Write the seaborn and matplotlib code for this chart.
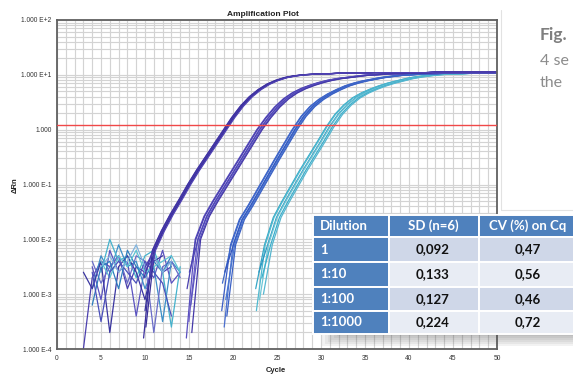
import numpy as np
import pandas as pd
import matplotlib
matplotlib.use("Agg")
import matplotlib.pyplot as plt
import seaborn as sns
from matplotlib.patches import Rectangle
from matplotlib.ticker import MultipleLocator, LogLocator, NullFormatter

# ---------- data (log10 of delta Rn per cycle) ----------
g1_start = 10
g1_log = [-2.9, -2.2, -1.85, -1.55, -1.28, -1.0, -0.74, -0.5, -0.26, -0.02,
          0.22, 0.43, 0.6, 0.73, 0.83, 0.9, 0.95, 0.98, 1.0, 1.01,
          1.02, 1.02, 1.03, 1.03, 1.03, 1.03, 1.04, 1.04, 1.04, 1.04,
          1.04, 1.04, 1.04, 1.05, 1.05, 1.05, 1.05, 1.05, 1.05, 1.05, 1.05]
g2_start = 15
g2_log = [-3.7, -2.0, -1.58, -1.3, -1.04, -0.78, -0.52, -0.26, 0.0, 0.22,
          0.41, 0.56, 0.67, 0.75, 0.81, 0.86, 0.9, 0.93, 0.95, 0.97,
          0.99, 1.0, 1.01, 1.02, 1.02, 1.03, 1.03, 1.03, 1.04, 1.04,
          1.04, 1.04, 1.04, 1.04, 1.04, 1.04]
g3_start = 19
g3_log = [-3.5, -2.1, -1.64, -1.38, -1.1, -0.82, -0.54, -0.27, 0.0, 0.24,
          0.42, 0.55, 0.65, 0.73, 0.8, 0.85, 0.89, 0.92, 0.95, 0.97,
          0.99, 1.0, 1.01, 1.02, 1.02, 1.03, 1.03, 1.03, 1.04, 1.04,
          1.04, 1.04]
g4_start = 23
g4_log = [-3.2, -2.1, -1.6, -1.3, -1.02, -0.74, -0.48, -0.22, 0.05, 0.28,
          0.45, 0.58, 0.67, 0.74, 0.8, 0.85, 0.89, 0.93, 0.96, 0.98,
          1.0, 1.01, 1.02, 1.02, 1.03, 1.03, 1.03, 1.03]

# replicate offsets in cycles (6 wells per dilution)
g1_shift = [-0.16, -0.12, 0.0, 0.04, 0.1, 0.2]
g2_shift = [-0.3, -0.22, -0.02, 0.04, 0.2, 0.32]
g3_shift = [-0.28, -0.2, 0.0, 0.06, 0.18, 0.3]
g4_shift = [-0.42, -0.34, -0.06, 0.02, 0.28, 0.46]

# first plotted point of each well (where it leaves the baseline)
g1_first = [-3.8, -2.7, -3.3, -2.5, -3.6, -2.9]
g2_first = [-3.8, -2.9, -3.5, -2.6, -3.2, -3.7]
g3_first = [-3.3, -2.8, -3.6, -2.6, -3.1, -3.4]
g4_first = [-2.9, -3.3, -2.6, -3.1, -2.7, -3.0]

g1_colors = ['#3b2f9e', '#4535a8', '#35309a', '#4b3cb0', '#3a2f98', '#5042b4']
g2_colors = ['#5a4fbf', '#4a40b0', '#6a5cc8', '#4d46b5', '#5b55c0', '#4438a8']
g3_colors = ['#3b5dc6', '#3e6acb', '#4a6fd0', '#3355bd', '#4876d0', '#3a60c4']
g4_colors = ['#35a6c6', '#4fbad0', '#2f97c0', '#6cc6d6', '#3aaecb', '#56b6cf']

# baseline noise, cycles 3..14 (nan = negative value, not drawn)
noise_start = 3
nan = np.nan
noise_log = [
    [-4.0, -2.7, -2.4, -2.5, -2.3, -2.9, -2.5, -2.6, -2.3, -2.6, -2.5, nan],
    [nan, -2.5, -3.1, -2.2, -2.6, -2.4, -3.4, -2.5, -2.7, -2.2, -2.8, -2.6],
    [nan, -2.9, -2.3, -2.6, -2.1, -2.5, -2.4, -2.9, -2.5, -3.5, -2.4, -2.6],
    [nan, nan, -2.6, -2.0, -2.4, -2.3, -2.7, -2.3, -2.2, -2.6, -3.6, -2.5],
    [-2.6, -2.9, -2.4, -3.7, -2.5, -2.3, -2.6, -3.1, -2.4, -2.3, nan, nan],
    [nan, -2.4, -2.8, -2.5, -2.3, -2.8, -2.3, -2.4, -3.7, -2.5, -2.4, -2.7],
    [nan, -3.2, -2.5, -2.4, -2.9, -2.2, -2.5, -2.7, -2.4, -2.6, -2.3, nan],
    [nan, nan, -2.4, -2.7, -2.3, -2.5, -2.2, -2.6, -2.5, -2.4, -2.3, -2.6],
    [nan, -2.6, -3.5, -2.6, -2.4, -2.6, -2.8, -2.4, -2.6, -2.8, -3.4, nan],
    [nan, nan, -2.5, -2.3, -2.6, -2.4, -2.1, -2.5, -2.3, -2.6, -2.4, nan],
]
noise_colors = ['#4b3fae', '#5a52c0', '#3d8fc8', '#45b2cc', '#3a35a0',
                '#6a6cc8', '#2f7fbf', '#5bc3d3', '#4a4fbb', '#7fb3de']

threshold = 1.2

y_ticks = [1e-4, 1e-3, 1e-2, 1e-1, 1, 1e1, 1e2]
y_labels = ['1.000 E-4', '1.000 E-3', '1.000 E-2', '1.000 E-1', '1.000',
            '1.000 E+1', '1.000 E+2']

tab_header = ['Dilution', 'SD (n=6)', 'CV (%) on Cq']
tab_dilution = ['1', '1:10', '1:100', '1:1000']
tab_sd = ['0,092', '0,133', '0,127', '0,224']
tab_cv = ['0,47', '0,56', '0,46', '0,72']

# ---------- long-form table of line segments ----------
rows = []
palette = {}
uid = 0


def add_line(start, logs, shift, color):
    global uid
    seg = 0
    for i, v in enumerate(logs):
        if np.isnan(v):
            seg += 1
            continue
        key = f'{uid}_{seg}'
        palette[key] = color
        rows.append({'cycle': start + i + shift, 'drn': 10 ** v, 'unit': key})
    uid += 1


for lst, col in zip(noise_log, noise_colors):
    add_line(noise_start, lst, 0.0, col)
for start, logs, shifts, firsts, cols in [
        (g4_start, g4_log, g4_shift, g4_first, g4_colors),
        (g3_start, g3_log, g3_shift, g3_first, g3_colors),
        (g2_start, g2_log, g2_shift, g2_first, g2_colors),
        (g1_start, g1_log, g1_shift, g1_first, g1_colors)]:
    for s, f, c in zip(shifts, firsts, cols):
        add_line(start, [f] + logs[1:], s, c)

df = pd.DataFrame(rows)

# ---------- plot ----------
sns.set_style('white')
plt.rcParams['font.family'] = ['Liberation Sans', 'DejaVu Sans']

fig = plt.figure(figsize=(5.73, 3.74), dpi=100)
ax = fig.add_axes([57 / 573, 25 / 374, 440 / 573, 329 / 374])

ax.set_yscale('log')
sns.lineplot(data=df, x='cycle', y='drn', hue='unit', units='unit',
             estimator=None, palette=palette, legend=False, sort=False,
             lw=0.9, ax=ax)
ax.axhline(threshold, color='#f04848', lw=1.0, zorder=3)

ax.set_xlim(0, 50)
ax.set_ylim(1e-4, 1e2)
ax.set_xticks(range(0, 51, 5))
ax.xaxis.set_minor_locator(MultipleLocator(1))
ax.set_yticks(y_ticks)
ax.set_yticklabels(y_labels)
ax.yaxis.set_minor_locator(LogLocator(base=10, subs=np.arange(2, 10)))
ax.yaxis.set_minor_formatter(NullFormatter())
ax.grid(which='both', color='#d3d3d3', lw=0.85)
ax.set_axisbelow(True)
ax.tick_params(which='both', length=0, labelsize=4.8, colors='#333333', pad=4)
ax.set_xlabel('')
ax.set_ylabel('')
for sp in ax.spines.values():
    sp.set_color('#606060')
    sp.set_linewidth(1.3)

# ---------- overlay in pixel coordinates ----------
ov = fig.add_axes([0, 0, 1, 1], zorder=5)
ov.set_xlim(0, 573)
ov.set_ylim(374, 0)
ov.axis('off')
ov.patch.set_alpha(0)

ov.text(263, 14, 'Amplification Plot', ha='center', va='center',
        fontsize=6, fontweight='bold', color='#222222')
ov.text(15, 185, 'ΔRn', ha='center', va='center', rotation=90,
        fontsize=5.5, fontweight='bold', color='#222222')
ov.text(276, 371, 'Cycle', ha='center', va='center',
        fontsize=5.5, fontweight='bold', color='#222222')

# light frame of the screenshot
ov.plot([501, 501], [10, 210], color='#e2e2e2', lw=0.8)
ov.plot([501, 573], [210, 210], color='#e2e2e2', lw=0.8)

ov.text(540, 40, 'Fig.', ha='left', va='baseline', fontsize=12.5,
        fontweight='bold', color='#7f7f7f', family='Lato')
ov.text(540, 65, '4 se', ha='left', va='baseline', fontsize=11.5,
        color='#8c8c8c', family='Lato')
ov.text(540, 87, 'the', ha='left', va='baseline', fontsize=11.5,
        color='#8c8c8c', family='Lato')

# table
col_edges = [313, 389, 479, 600]
row_edges = [215, 237, 262, 287, 311, 334]
blue = '#4f81bd'
light = ['#cfd7e8', '#e8ecf4']

for k in range(6):
    ov.add_patch(Rectangle((322 + k * 3, 334), 260, 12 - k * 2,
                           color='#505050', alpha=0.07, lw=0))

for r in range(5):
    y0, y1 = row_edges[r], row_edges[r + 1]
    for c in range(3):
        x0, x1 = col_edges[c], col_edges[c + 1]
        if r == 0 or c == 0:
            fc = blue
        else:
            fc = light[(r - 1) % 2]
        ov.add_patch(Rectangle((x0, y0), x1 - x0, y1 - y0, facecolor=fc,
                               edgecolor='white', lw=1.4))

ty = [(row_edges[r] + row_edges[r + 1]) / 2 for r in range(5)]
tfont = dict(family='Lato', fontweight='bold', fontsize=9.5, va='center')
ov.text(320, ty[0], tab_header[0], ha='left', color='white', **tfont)
ov.text(433, ty[0], tab_header[1], ha='center', color='white', **tfont)
ov.text(528, ty[0], tab_header[2], ha='center', color='white', **tfont)
for i in range(4):
    ov.text(320, ty[i + 1], tab_dilution[i], ha='left', color='white', **tfont)
    ov.text(433, ty[i + 1], tab_sd[i], ha='center', color='#111111', **tfont)
    ov.text(528, ty[i + 1], tab_cv[i], ha='center', color='#111111', **tfont)

fig.savefig('out.png', dpi=100)
